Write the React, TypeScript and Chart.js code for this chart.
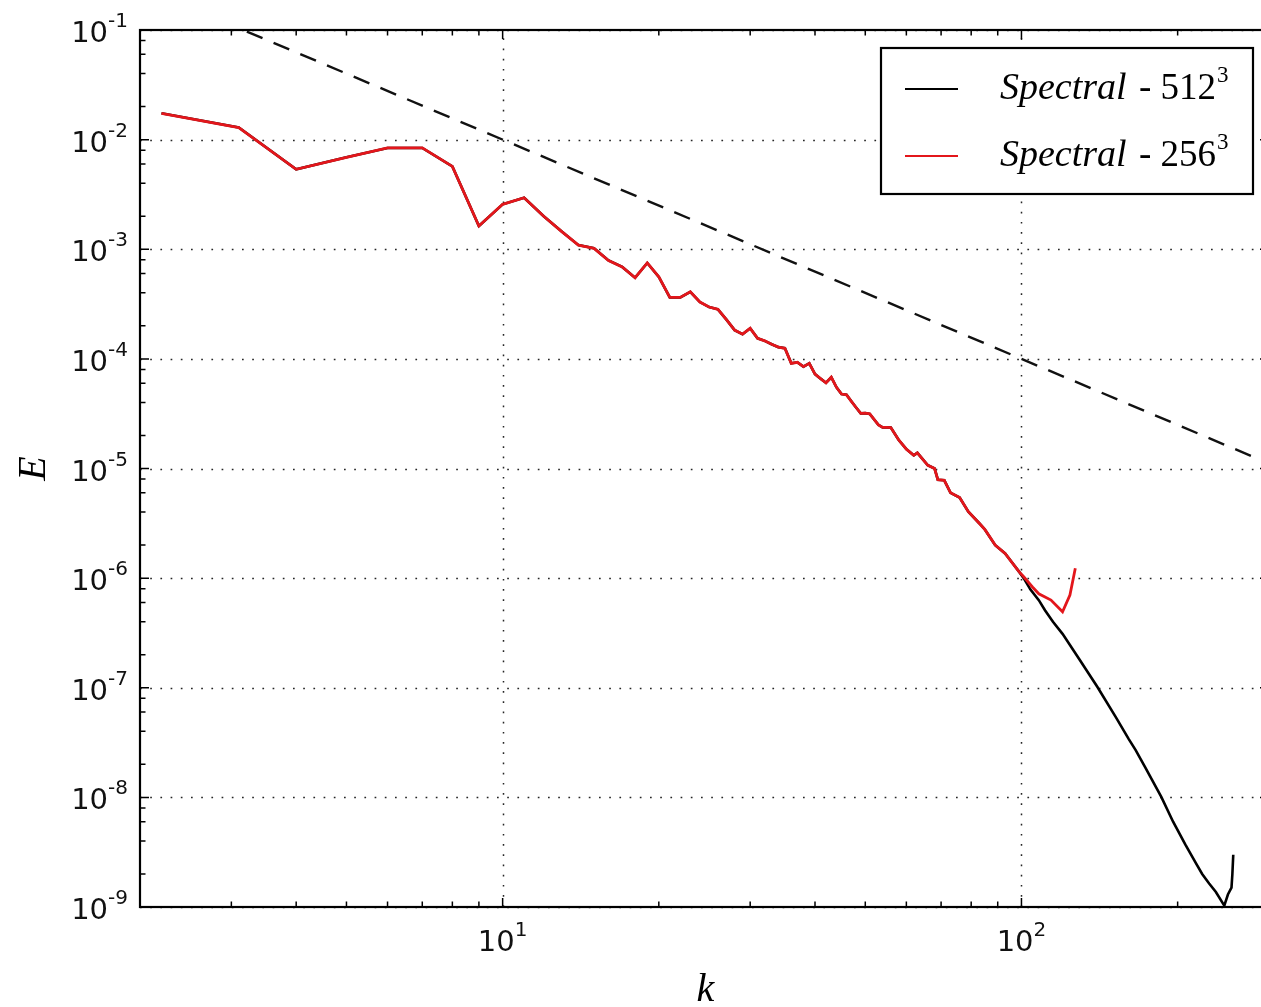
import { useEffect, useRef } from "react";
import { Chart, registerables } from "chart.js";

Chart.register(...registerables);

// Shell-averaged energy spectrum E(k), 256^3 run
const k256 = [
  2.2, 3.1, 4, 5, 6, 7, 8, 9, 10, 11, 12, 13, 14, 15, 16, 17, 18, 19, 20, 21,
  22, 23, 24, 25, 26, 27, 28, 29, 30, 31, 32, 33, 34, 35, 36, 37, 38, 39, 40,
  41, 42, 43, 44, 45, 46, 47, 48, 49, 50, 51, 52, 53, 54, 55, 56, 58, 60, 62,
  63, 66, 68, 69, 71, 73, 76, 79, 83, 85, 89, 93, 96, 99, 101, 105, 108, 114,
  120, 124, 127,
];
const e256 = [
  1.74e-2, 1.29e-2, 5.36e-3, 6.9e-3, 8.4e-3, 8.4e-3, 5.7e-3, 1.63e-3, 2.57e-3,
  2.95e-3, 2.0e-3, 1.45e-3, 1.09e-3, 1.02e-3, 7.9e-4, 6.9e-4, 5.5e-4, 7.5e-4,
  5.6e-4, 3.64e-4, 3.64e-4, 4.09e-4, 3.3e-4, 2.97e-4, 2.83e-4, 2.28e-4,
  1.83e-4, 1.68e-4, 1.9e-4, 1.54e-4, 1.46e-4, 1.36e-4, 1.28e-4, 1.25e-4,
  9.1e-5, 9.3e-5, 8.5e-5, 9.1e-5, 7.26e-5, 6.6e-5, 6.05e-5, 6.8e-5, 5.5e-5,
  4.78e-5, 4.7e-5, 4.1e-5, 3.6e-5, 3.18e-5, 3.2e-5, 3.15e-5, 2.8e-5, 2.5e-5,
  2.37e-5, 2.37e-5, 2.36e-5, 1.82e-5, 1.5e-5, 1.32e-5, 1.39e-5, 1.07e-5,
  1.0e-5, 7.9e-6, 7.8e-6, 6.0e-6, 5.44e-6, 4.03e-6, 3.15e-6, 2.78e-6, 2.0e-6,
  1.68e-6, 1.38e-6, 1.14e-6, 1.03e-6, 8.3e-7, 7.2e-7, 6.3e-7, 4.94e-7, 7.0e-7,
  1.23e-6,
];

// Shell-averaged energy spectrum E(k), 512^3 run
const k512 = [
  2.2, 3.1, 4, 5, 6, 7, 8, 9, 10, 11, 12, 13, 14, 15, 16, 17, 18, 19, 20, 21,
  22, 23, 24, 25, 26, 27, 28, 29, 30, 31, 32, 33, 34, 35, 36, 37, 38, 39, 40,
  41, 42, 43, 44, 45, 46, 47, 48, 49, 50, 51, 52, 53, 54, 55, 56, 58, 60, 62,
  63, 66, 68, 69, 71, 73, 76, 79, 83, 85, 89, 93, 96, 99, 101, 104, 108, 111,
  115, 120, 129, 140, 152, 161, 166, 173, 186, 196, 207, 217, 223, 230, 237,
  246, 250, 254, 255, 256,
];
const e512 = [
  1.74e-2, 1.29e-2, 5.36e-3, 6.9e-3, 8.4e-3, 8.4e-3, 5.7e-3, 1.63e-3, 2.57e-3,
  2.95e-3, 2.0e-3, 1.45e-3, 1.09e-3, 1.02e-3, 7.9e-4, 6.9e-4, 5.5e-4, 7.5e-4,
  5.6e-4, 3.64e-4, 3.64e-4, 4.09e-4, 3.3e-4, 2.97e-4, 2.83e-4, 2.28e-4,
  1.83e-4, 1.68e-4, 1.9e-4, 1.54e-4, 1.46e-4, 1.36e-4, 1.28e-4, 1.25e-4,
  9.1e-5, 9.3e-5, 8.5e-5, 9.1e-5, 7.26e-5, 6.6e-5, 6.05e-5, 6.8e-5, 5.5e-5,
  4.78e-5, 4.7e-5, 4.1e-5, 3.6e-5, 3.18e-5, 3.2e-5, 3.15e-5, 2.8e-5, 2.5e-5,
  2.37e-5, 2.37e-5, 2.36e-5, 1.82e-5, 1.5e-5, 1.32e-5, 1.39e-5, 1.07e-5,
  1.0e-5, 7.9e-6, 7.8e-6, 6.0e-6, 5.44e-6, 4.03e-6, 3.15e-6, 2.78e-6, 2.0e-6,
  1.68e-6, 1.38e-6, 1.14e-6, 1.0e-6, 7.9e-7, 6.3e-7, 5.1e-7, 4.0e-7, 3.1e-7,
  1.85e-7, 1.02e-7, 5.4e-8, 3.4e-8, 2.7e-8, 1.9e-8, 1.01e-8, 6.0e-9, 3.7e-9,
  2.5e-9, 2.0e-9, 1.64e-9, 1.37e-9, 1.03e-9, 1.3e-9, 1.5e-9, 2.0e-9, 3.0e-9,
];

// k^-2 reference slope
const refK = [2, 300];
const refE = [0.25, 1.111e-5];

// axis ranges and tick values
const xRange = [2, 300];
const yRange = [1e-9, 1e-1];
const xMajorTicks = [10, 100];
const xMajorExps = [1, 2];
const xMinorTicks = [2, 3, 4, 5, 6, 7, 8, 9, 20, 30, 40, 50, 60, 70, 80, 90, 200, 300];
const yMajorExps = [-1, -2, -3, -4, -5, -6, -7, -8, -9];
const yMinorMults = [2, 4, 6, 8];

const legendRes = ["512", "256"];

const RED = "#e3161b";
const SANS = '"DejaVu Sans", sans-serif';
const SERIF = '"Liberation Serif", "Times New Roman", serif';

function pts(ks: number[], es: number[]) {
  return ks.map((k, i) => ({ x: k, y: es[i] }));
}

const decor = {
  id: "decor",
  beforeDatasetsDraw(chart: any) {
    const { ctx, chartArea: a, scales } = chart;
    const x = scales.x;
    const y = scales.y;
    ctx.save();
    ctx.strokeStyle = "rgba(0,0,0,0.85)";
    ctx.lineWidth = 1.5;
    ctx.setLineDash([1.7, 8.5]);
    for (const v of xMajorTicks) {
      const px = Math.round(x.getPixelForValue(v)) + 0.5;
      ctx.beginPath();
      ctx.moveTo(px, a.bottom);
      ctx.lineTo(px, a.top);
      ctx.stroke();
    }
    for (const e of yMajorExps) {
      const py = Math.round(y.getPixelForValue(Math.pow(10, e))) + 0.5;
      ctx.beginPath();
      ctx.moveTo(a.left, py);
      ctx.lineTo(a.right, py);
      ctx.stroke();
    }
    ctx.restore();
  },
  afterDatasetsDraw(chart: any) {
    const { ctx, chartArea: a, scales } = chart;
    const x = scales.x;
    const y = scales.y;
    ctx.save();
    ctx.setLineDash([]);
    ctx.strokeStyle = "#000";

    // inward ticks
    ctx.lineWidth = 1.5;
    const majLen = 9;
    const minLen = 5.5;
    const vTick = (v: number, len: number) => {
      const px = x.getPixelForValue(v);
      ctx.beginPath();
      ctx.moveTo(px, a.bottom);
      ctx.lineTo(px, a.bottom - len);
      ctx.moveTo(px, a.top);
      ctx.lineTo(px, a.top + len);
      ctx.stroke();
    };
    xMajorTicks.forEach((v) => vTick(v, majLen));
    xMinorTicks.forEach((v) => vTick(v, minLen));
    const hTick = (v: number, len: number) => {
      const py = y.getPixelForValue(v);
      ctx.beginPath();
      ctx.moveTo(a.left, py);
      ctx.lineTo(a.left + len, py);
      ctx.moveTo(a.right, py);
      ctx.lineTo(a.right - len, py);
      ctx.stroke();
    };
    yMajorExps.forEach((e) => hTick(Math.pow(10, e), majLen));
    yMajorExps.slice(1).forEach((e) =>
      yMinorMults.forEach((m) => hTick(m * Math.pow(10, e), minLen))
    );

    // axes frame
    ctx.lineWidth = 2.2;
    ctx.strokeRect(a.left, a.top, a.right - a.left, a.bottom - a.top);

    // tick labels 10^n
    const baseFont = `29px ${SANS}`;
    const supFont = `20px ${SANS}`;
    ctx.fillStyle = "#111";
    ctx.textBaseline = "alphabetic";
    ctx.textAlign = "left";
    const power = (sx: number, by: number, exp: string) => {
      ctx.font = baseFont;
      ctx.fillText("10", sx, by);
      const w = ctx.measureText("10").width;
      ctx.font = supFont;
      ctx.fillText(exp, sx + w, by - 15);
    };
    const widthOf = (exp: string) => {
      ctx.font = baseFont;
      const w1 = ctx.measureText("10").width;
      ctx.font = supFont;
      return w1 + ctx.measureText(exp).width;
    };
    yMajorExps.forEach((e) => {
      const py = y.getPixelForValue(Math.pow(10, e));
      const s = String(e);
      power(a.left - 12 - widthOf(s), py + 12, s);
    });
    xMajorTicks.forEach((v, i) => {
      const px = x.getPixelForValue(v);
      const s = String(xMajorExps[i]);
      power(px - widthOf(s) / 2, a.bottom + 44, s);
    });

    // axis titles
    ctx.fillStyle = "#000";
    ctx.font = `italic 40px ${SERIF}`;
    ctx.textAlign = "center";
    ctx.fillText("k", (a.left + 1261) / 2 + 5, 1001);
    ctx.save();
    ctx.translate(45, (a.top + a.bottom) / 2);
    ctx.rotate(-Math.PI / 2);
    ctx.fillText("E", 0, 0);
    ctx.restore();

    // legend
    const lx = 881;
    const ly = 48;
    const lw = 372;
    const lh = 146;
    ctx.fillStyle = "#fff";
    ctx.fillRect(lx, ly, lw, lh);
    ctx.lineWidth = 2.2;
    ctx.strokeStyle = "#000";
    ctx.strokeRect(lx, ly, lw, lh);
    const colors = ["#000", RED];
    legendRes.forEach((res, i) => {
      const rowY = 89 + i * 67;
      ctx.strokeStyle = colors[i];
      ctx.lineWidth = 2;
      ctx.beginPath();
      ctx.moveTo(905, rowY);
      ctx.lineTo(958, rowY);
      ctx.stroke();
      ctx.fillStyle = "#000";
      ctx.textAlign = "left";
      let tx = 1000;
      const by = rowY + 10;
      ctx.font = `italic 38px ${SERIF}`;
      ctx.fillText("Spectral", tx, by);
      tx += ctx.measureText("Spectral").width + 3;
      ctx.font = `37px ${SERIF}`;
      const mid = " - " + res;
      ctx.fillText(mid, tx, by);
      tx += ctx.measureText(mid).width;
      ctx.font = `23px ${SERIF}`;
      ctx.fillText("3", tx + 1, by - 17);
    });

    ctx.restore();
  },
};

export default function App() {
  const ref = useRef<HTMLCanvasElement>(null);

  useEffect(() => {
    if (!ref.current) return;
    const chart = new Chart(ref.current, {
      type: "scatter",
      data: {
        datasets: [
          {
            label: "Spectral - 256^3",
            data: pts(k256, e256),
            borderColor: RED,
            borderWidth: 2.8,
            pointRadius: 0,
            showLine: true,
          },
          {
            label: "Spectral - 512^3",
            data: pts(k512, e512),
            borderColor: "#000",
            borderWidth: 2.6,
            pointRadius: 0,
            showLine: true,
          },
          {
            label: "k^-2",
            data: pts(refK, refE),
            borderColor: "#111",
            borderWidth: 2.4,
            borderDash: [17, 12],
            pointRadius: 0,
            showLine: true,
          },
        ],
      },
      options: {
        animation: false,
        responsive: false,
        devicePixelRatio: 1,
        events: [],
        layout: { padding: { top: 30, right: 11, left: 0, bottom: 0 } },
        plugins: { legend: { display: false }, tooltip: { enabled: false } },
        scales: {
          x: {
            type: "logarithmic",
            min: xRange[0],
            max: xRange[1],
            grid: { display: false },
            border: { display: false },
            ticks: { display: false },
            afterFit: (s: any) => {
              s.height = 100;
            },
          },
          y: {
            type: "logarithmic",
            min: yRange[0],
            max: yRange[1],
            grid: { display: false },
            border: { display: false },
            ticks: { display: false },
            afterFit: (s: any) => {
              s.width = 140;
            },
          },
        },
      },
      plugins: [decor],
    } as any);
    return () => chart.destroy();
  }, []);

  return (
    <div
      style={{
        position: "fixed",
        left: 0,
        top: 0,
        width: 1261,
        height: 1007,
        overflow: "hidden",
        background: "#fff",
      }}
    >
      <canvas
        ref={ref}
        width={1280}
        height={1007}
        style={{ display: "block", width: 1280, height: 1007 }}
      />
    </div>
  );
}
